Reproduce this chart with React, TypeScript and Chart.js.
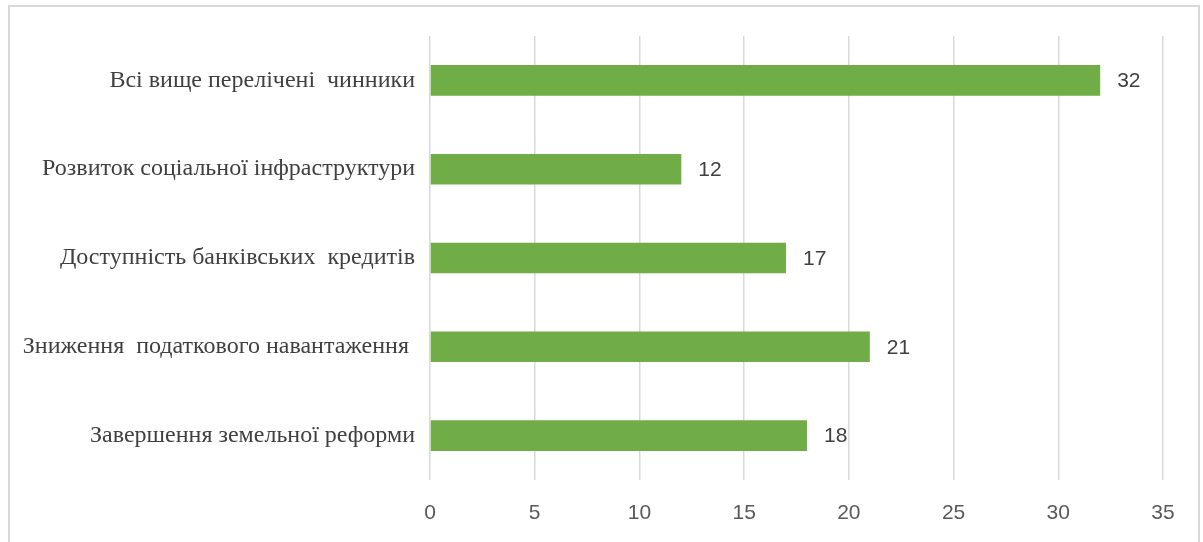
import React, { useEffect, useRef } from "react";
import { Chart, registerables } from "chart.js";

Chart.register(...registerables);

const categories = [
  "Всі вище перелічені  чинники",
  "Розвиток соціальної інфраструктури",
  "Доступність банківських  кредитів",
  "Зниження  податкового навантаження ",
  "Завершення земельної реформи",
];
const values = [32, 12, 17, 21, 18];
const xTicksMin = 0;
const xTicksMax = 35;
const xTickStep = 5;

const dataLabelPlugin = {
  id: "dataLabels",
  afterDatasetsDraw(chart: any) {
    const ctx = chart.ctx;
    const meta = chart.getDatasetMeta(0);
    ctx.save();
    ctx.font = "21px 'Liberation Sans', Arial, sans-serif";
    ctx.fillStyle = "#404040";
    ctx.textAlign = "left";
    ctx.textBaseline = "middle";
    meta.data.forEach((bar: any, i: number) => {
      ctx.fillText(String(values[i]), bar.x + 17, bar.y + 1);
    });
    ctx.restore();
  },
};

export default function App() {
  const ref = useRef<HTMLCanvasElement | null>(null);
  useEffect(() => {
    if (!ref.current) return;
    const chart = new Chart(ref.current, {
      type: "bar",
      data: {
        labels: categories,
        datasets: [
          {
            data: values,
            backgroundColor: "#70AD47",
            borderWidth: 0,
            barPercentage: 0.345,
            categoryPercentage: 1,
          },
        ],
      },
      options: {
        indexAxis: "y",
        animation: false,
        responsive: false,
        events: [],
        layout: { padding: { top: 36, right: 40, left: 0, bottom: 0 } },
        plugins: { legend: { display: false }, tooltip: { enabled: false } },
        scales: {
          x: {
            min: xTicksMin,
            max: xTicksMax,
            ticks: {
              stepSize: xTickStep,
              color: "#595959",
              font: { family: "'Liberation Sans', Arial, sans-serif", size: 21 },
              padding: 21,
            },
            grid: { color: "#D9D9D9", lineWidth: 1.5, drawTicks: false },
            border: { display: false },
            afterFit(scale: any) {
              scale.height = 62;
            },
          },
          y: {
            ticks: {
              color: "#404040",
              font: { family: "'Liberation Serif', 'Times New Roman', serif", size: 24 },
              padding: 15,
            },
            grid: { display: false, drawTicks: false },
            border: { display: false },
            afterFit(scale: any) {
              scale.width = 430;
            },
          },
        },
      },
      plugins: [dataLabelPlugin],
    } as any);
    return () => chart.destroy();
  }, []);
  return (
    <div style={{ position: "absolute", left: 0, top: 0, width: 1203, height: 542, background: "#fff" }}>
      <div
        style={{
          position: "absolute",
          left: 8,
          top: 5,
          width: 1192,
          height: 560,
          border: "2px solid #D9D9D9",
          boxSizing: "border-box",
        }}
      />
      <canvas ref={ref} width={1203} height={542} style={{ position: "absolute", left: 0, top: 0 }} />
    </div>
  );
}
